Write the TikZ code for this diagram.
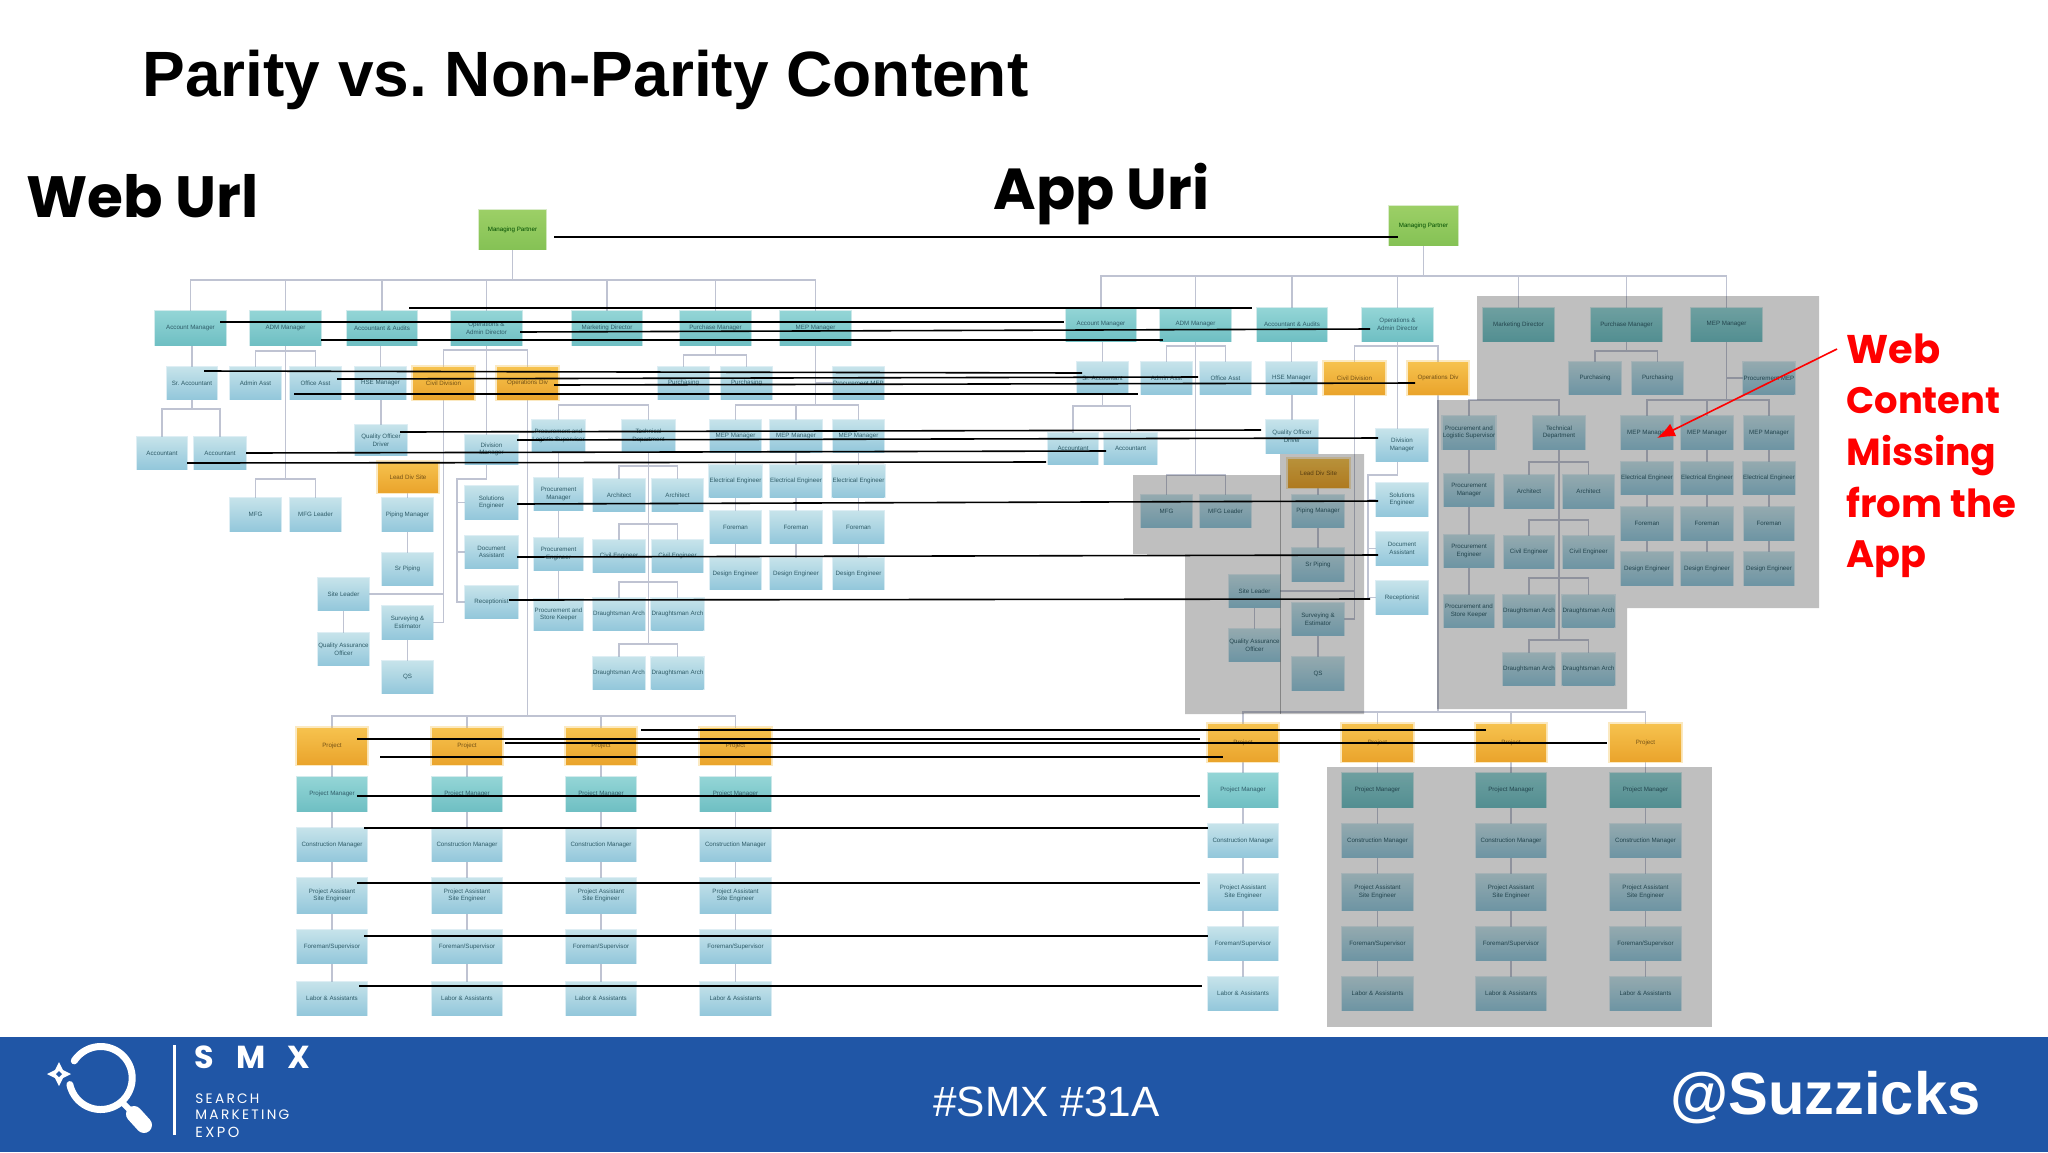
\documentclass[tikz,border=0pt]{standalone}
\usepackage{fontspec}
\usepackage{graphicx}
\setmainfont{Liberation Sans}
\newfontfamily\pop{Poppins}
\frenchspacing
\usetikzlibrary{calc,arrows.meta}
\pgfdeclarelayer{bg}
\pgfsetlayers{bg,main}
\definecolor{tealT}{HTML}{93D5D6}\definecolor{tealB}{HTML}{6FBFC3}
\definecolor{blueT}{HTML}{C6E3EA}\definecolor{blueB}{HTML}{93C7DB}
\definecolor{orT}{HTML}{F6C24E}\definecolor{orB}{HTML}{EAA42C}
\definecolor{grT}{HTML}{9CCF66}\definecolor{grB}{HTML}{85C255}
\definecolor{linkc}{HTML}{BFC3D2}
\definecolor{band}{HTML}{2056A6}
\definecolor{lab}{HTML}{2F5C68}
\tikzset{
  boxb/.style={inner sep=0pt,align=center,font=\fontsize{3.1}{3.8}\selectfont,text=lab,anchor=center},
  teal/.style={top color=tealT,bottom color=tealB,preaction={draw=tealB,line width=1.4pt,draw opacity=.3}},
  lblue/.style={top color=blueT,bottom color=blueB,preaction={draw=blueB,line width=1.4pt,draw opacity=.3}},
  orng/.style={top color=orT,bottom color=orB,text=orB!50!black,preaction={draw=orT,line width=2pt,draw opacity=.35}},
  grn/.style={top color=grT,bottom color=grB,text=green!30!black,preaction={draw=grB,line width=1.4pt,draw opacity=.3}},
  link/.style={draw=linkc,line width=.8pt},
  shade/.style={fill=black,fill opacity=.25},
  match/.style={draw=black,line width=.8pt},
  redarrow/.style={draw=red,line width=.8pt,-{Latex[length=9pt,width=7pt]}},
  free/.style={inner sep=0pt,anchor=west},
}
\newcommand{\bx}[7]{\node[boxb,#6,minimum width={(#4-#2)*0.5pt},minimum height={(#5-#3)*0.5pt}] (#1) at ({(#2+#4)/2},{(#3+#5)/2}) {#7};}
% parent -> child through a bus at height y
\newcommand{\lk}[3]{\draw[link] (#1.south) -- (#1.south |- 0,#3) -| (#2.north);}
% bracket between two siblings
\newcommand{\brk}[3]{\draw[link] (#1.north) -- (#1.north |- 0,#3) -| (#2.north);}
\newcommand{\vl}[2]{\draw[link] (#1.south) -- (#1.south -| #2.north) -- (#2.north);}
\newcommand{\cn}[5]{\coordinate (cs#1) at (#2,#3);\coordinate (ce#1) at (#4,#5);\draw[match] (cs#1) -- (ce#1);}
\begin{document}
\begin{tikzpicture}[x=0.5pt,y=-0.5pt]
\useasboundingbox (0,0) rectangle (2048,1152);
%% ---- WEB TREE
\bx{wR}{479}{210}{546}{249}{grn}{Managing Partner}
\bx{wA}{155}{311}{226}{345}{teal}{Account Manager}
\bx{wB}{250}{311}{321}{345}{teal}{ADM Manager}
\bx{wC}{347}{311}{417}{345}{teal}{Accountant \& Audits}
\bx{wD}{451}{311}{522}{345}{teal}{Operations \&\\Admin Director}
\bx{wE}{572}{311}{642}{345}{teal}{Marketing Director}
\bx{wF}{680}{311}{751}{345}{teal}{Purchase Manager}
\bx{wG}{780}{311}{851}{345}{teal}{MEP Manager}
\bx{wa}{167}{367}{217}{399}{lblue}{Sr. Accountant}
\bx{wb}{230}{367}{281}{399}{lblue}{Admin Asst}
\bx{wc}{290}{367}{341}{399}{lblue}{Office Asst}
\bx{wd}{355}{367}{406}{399}{lblue}{HSE Manager}
\bx{wo}{413}{367}{474}{399}{orng}{Civil Division}
\bx{wp}{497}{367}{558}{399}{orng}{Operations Div}
\bx{wfa}{658}{367}{709}{399}{lblue}{Purchasing}
\bx{wfb}{721}{367}{772}{399}{lblue}{Purchasing}
\bx{wg}{833}{367}{884}{399}{lblue}{Procurement MEP}
\bx{waa}{137}{437}{187}{469}{lblue}{Accountant}
\bx{wab}{194}{437}{246}{469}{lblue}{Accountant}
\bx{wq}{355}{425}{407}{455}{lblue}{Quality Officer\\Driver}
\bx{wv}{465}{435}{518}{464}{lblue}{Division\\Manager}
\bx{wl}{378}{462}{438}{492}{orng}{Lead Div Site}
\bx{wpm}{382}{498}{433}{531}{lblue}{Piping Manager}
\bx{wpe}{382}{553}{433}{585}{lblue}{Sr Piping}
\bx{wsa}{318}{578}{369}{610}{lblue}{Site Leader}
\bx{wsb}{318}{633}{369}{665}{lblue}{Quality Assurance\\Officer}
\bx{wn}{382}{606}{433}{639}{lblue}{Surveying \&\\Estimator}
\bx{wqs}{382}{661}{433}{693}{lblue}{QS}
\bx{wme}{230}{498}{281}{531}{lblue}{MFG}
\bx{wmf}{290}{498}{341}{531}{lblue}{MFG Leader}
\bx{wsol}{465}{486}{518}{519}{lblue}{Solutions\\Engineer}
\bx{wsys}{465}{536}{518}{568}{lblue}{Document\\Assistant}
\bx{wreg}{465}{586}{518}{618}{lblue}{Receptionist}
\bx{wma}{534}{420}{583}{452}{lblue}{Procurement and\\Logistic Supervisor}
\bx{wmb}{622}{420}{675}{452}{lblue}{Technical\\Department}
\bx{wmc}{534}{478}{583}{510}{lblue}{Procurement\\Manager}
\bx{wmd}{534}{538}{583}{570}{lblue}{Procurement\\Engineer}
\bx{wme2}{534}{599}{583}{630}{lblue}{Procurement and\\Store Keeper}
\foreach \r/\ya/\yb/\t in {1/479/511/Architect,2/540/572/Civil Engineer,3/598/630/Draughtsman Arch,4/657/689/Draughtsman Arch}{
  \bx{wxa\r}{593}{\ya}{645}{\yb}{lblue}{\t}
  \bx{wxb\r}{652}{\ya}{703}{\yb}{lblue}{\t}
}
\foreach \c/\xa/\xb in {1/710/761,2/770/822,3/833/884}{
  \bx{wga\c}{\xa}{420}{\xb}{452}{lblue}{MEP Manager}
  \bx{wgb\c}{\xa}{465}{\xb}{497}{lblue}{Electrical Engineer}
  \bx{wgc\c}{\xa}{511}{\xb}{543}{lblue}{Foreman}
  \bx{wgd\c}{\xa}{558}{\xb}{589}{lblue}{Design Engineer}
}
\foreach \c/\xa/\xb in {1/297/367,2/432/502,3/566/636,4/700/771}{
  \bx{wP\c}{\xa}{728}{\xb}{764}{orng}{Project}
  \bx{wQ\c}{\xa}{777}{\xb}{811}{teal}{Project Manager}
  \bx{wS\c}{\xa}{828}{\xb}{861}{lblue}{Construction Manager}
  \bx{wT\c}{\xa}{878}{\xb}{913}{lblue}{Project Assistant\\Site Engineer}
  \bx{wU\c}{\xa}{930}{\xb}{963}{lblue}{Foreman/Supervisor}
  \bx{wV\c}{\xa}{982}{\xb}{1015}{lblue}{Labor \& Assistants}
}
%% ---- APP TREE
\bx{aR}{1389}{206}{1458}{245}{grn}{Managing Partner}
\bx{aA}{1066}{308}{1136}{341}{teal}{Account Manager}
\bx{aB}{1160}{308}{1231}{341}{teal}{ADM Manager}
\bx{aC}{1257}{308}{1327}{341}{teal}{Accountant \& Audits}
\bx{aD}{1362}{308}{1433}{341}{teal}{Operations \&\\Admin Director}
\bx{aE}{1483}{308}{1554}{341}{teal}{Marketing Director}
\bx{aF}{1591}{308}{1662}{341}{teal}{Purchase Manager}
\bx{aG}{1691}{308}{1762}{341}{teal}{MEP Manager}
\bx{aa}{1077}{362}{1128}{394}{lblue}{Sr. Accountant}
\bx{ab}{1141}{362}{1192}{394}{lblue}{Admin Asst}
\bx{ac}{1200}{362}{1251}{394}{lblue}{Office Asst}
\bx{ad}{1266}{362}{1317}{394}{lblue}{HSE Manager}
\bx{ao}{1324}{362}{1385}{394}{orng}{Civil Division}
\bx{ap}{1408}{362}{1468}{394}{orng}{Operations Div}
\bx{afa}{1569}{362}{1621}{394}{lblue}{Purchasing}
\bx{afb}{1632}{362}{1683}{394}{lblue}{Purchasing}
\bx{ag}{1744}{362}{1794}{394}{lblue}{Procurement MEP}
\bx{aaa}{1048}{433}{1098}{464}{lblue}{Accountant}
\bx{aab}{1104}{433}{1157}{464}{lblue}{Accountant}
\bx{aq}{1266}{420}{1318}{453}{lblue}{Quality Officer\\Driver}
\bx{av}{1376}{429}{1428}{461}{lblue}{Division\\Manager}
\bx{al}{1288}{459}{1349}{487}{orng}{Lead Div Site}
\bx{apm}{1292}{495}{1344}{527}{lblue}{Piping Manager}
\bx{ape}{1292}{548}{1344}{581}{lblue}{Sr Piping}
\bx{asa}{1229}{575}{1280}{607}{lblue}{Site Leader}
\bx{asb}{1229}{629}{1280}{661}{lblue}{Quality Assurance\\Officer}
\bx{an}{1292}{603}{1344}{635}{lblue}{Surveying \&\\Estimator}
\bx{aqs}{1292}{657}{1344}{690}{lblue}{QS}
\bx{ame}{1141}{495}{1192}{527}{lblue}{MFG}
\bx{amf}{1200}{495}{1251}{527}{lblue}{MFG Leader}
\bx{asol}{1376}{483}{1428}{516}{lblue}{Solutions\\Engineer}
\bx{asys}{1376}{532}{1428}{565}{lblue}{Document\\Assistant}
\bx{areg}{1376}{581}{1428}{614}{lblue}{Receptionist}
\bx{ama}{1444}{416}{1494}{449}{lblue}{Procurement and\\Logistic Supervisor}
\bx{amb}{1533}{416}{1585}{449}{lblue}{Technical\\Department}
\bx{amc}{1444}{474}{1494}{506}{lblue}{Procurement\\Manager}
\bx{amd}{1444}{535}{1494}{567}{lblue}{Procurement\\Engineer}
\bx{ame2}{1444}{595}{1494}{627}{lblue}{Procurement and\\Store Keeper}
\foreach \r/\ya/\yb/\t in {1/475/508/Architect,2/536/568/Civil Engineer,3/595/627/Draughtsman Arch,4/653/685/Draughtsman Arch}{
  \bx{axa\r}{1504}{\ya}{1554}{\yb}{lblue}{\t}
  \bx{axb\r}{1563}{\ya}{1614}{\yb}{lblue}{\t}
}
\foreach \c/\xa/\xb in {1/1621/1673,2/1681/1733,3/1744/1794}{
  \bx{aga\c}{\xa}{416}{\xb}{449}{lblue}{MEP Manager}
  \bx{agb\c}{\xa}{462}{\xb}{494}{lblue}{Electrical Engineer}
  \bx{agc\c}{\xa}{507}{\xb}{540}{lblue}{Foreman}
  \bx{agd\c}{\xa}{552}{\xb}{585}{lblue}{Design Engineer}
}
\foreach \c/\xa/\xb in {1/1208/1278,2/1342/1413,3/1476/1546,4/1610/1681}{
  \bx{aP\c}{\xa}{724}{\xb}{761}{orng}{Project}
  \bx{aQ\c}{\xa}{773}{\xb}{807}{teal}{Project Manager}
  \bx{aS\c}{\xa}{824}{\xb}{857}{lblue}{Construction Manager}
  \bx{aT\c}{\xa}{874}{\xb}{910}{lblue}{Project Assistant\\Site Engineer}
  \bx{aU\c}{\xa}{927}{\xb}{960}{lblue}{Foreman/Supervisor}
  \bx{aV\c}{\xa}{977}{\xb}{1010}{lblue}{Labor \& Assistants}
}
%% ---- TREE LINKS (behind the boxes)
\begin{pgfonlayer}{bg}
\fill[white] (0,0) rectangle (2048,1152);
\foreach \p in {w,a}{
  \foreach \c in {1,2,3,4}{
    \vl{\p P\c}{\p Q\c}\vl{\p Q\c}{\p S\c}\vl{\p S\c}{\p T\c}\vl{\p T\c}{\p U\c}\vl{\p U\c}{\p V\c}
  }
  \foreach \c in {1,2,3}{
    \vl{\p ga\c}{\p gb\c}\vl{\p gb\c}{\p gc\c}\vl{\p gc\c}{\p gd\c}
  }
  \vl{\p A}{\p a}\vl{\p C}{\p d}\vl{\p d}{\p q}\vl{\p l}{\p pm}\vl{\p pm}{\p pe}
  \vl{\p sa}{\p sb}\vl{\p n}{\p qs}\vl{\p ma}{\p mc}\vl{\p mc}{\p md}\vl{\p md}{\p me2}
  \draw[link] (\p o.south) |- (\p n.east);
  \draw[link] (\p sa.east) -- (\p sa.east -| \p o.south);
  \draw[link] (\p g.west) -| (\p G.south);
}
\foreach \k in {A,B,C,D,E,F,G}{\lk{wR}{w\k}{280}\lk{aR}{a\k}{276}}
\lk{wB}{wb}{351}\lk{wB}{wc}{351}\lk{wB}{wme}{479}\lk{wB}{wmf}{479}
\lk{aB}{ab}{346}\lk{aB}{ac}{346}\lk{aB}{ame}{475}\lk{aB}{amf}{475}
\lk{wa}{waa}{409}\lk{wa}{wab}{409}\lk{aa}{aaa}{406}\lk{aa}{aab}{406}
\lk{wD}{wo}{350}\lk{wD}{wp}{350}\lk{aD}{ao}{346}\lk{aD}{ap}{346}
\lk{wF}{wfa}{355}\lk{wF}{wfb}{355}\lk{aF}{afa}{351}\lk{aF}{afb}{351}
\foreach \c in {1,2,3}{\lk{wG}{wga\c}{405}\lk{aG}{aga\c}{400}}
\brk{wma}{wmb}{405}\brk{ama}{amb}{400}
\foreach \k/\y in {1/466,2/524,3/582,4/644}{\brk{wxa\k}{wxb\k}{\y}}
\foreach \k/\y in {1/462,2/520,3/578,4/640}{\brk{axa\k}{axb\k}{\y}}
\draw[link] (wmb.south) -- (wmb.south |- 0,644);
\draw[link] (amb.south) -- (amb.south |- 0,640);
\coordinate (wspine) at (457,479);\coordinate (aspine) at (1368,475);
\draw[link] (wD.south) |- (wspine) |- (wreg.west);
\draw[link] (aD.south) |- (aspine) |- (areg.west);
\draw[link] (wsol.west) -- (wsol.west -| wspine);\draw[link] (wsys.west) -- (wsys.west -| wspine);
\draw[link] (asol.west) -- (asol.west -| aspine);\draw[link] (asys.west) -- (asys.west -| aspine);
\foreach \c in {1,2,3,4}{\lk{wp}{wP\c}{716}\lk{ap}{aP\c}{712}}
\end{pgfonlayer}
%% ---- GREY OVERLAYS
\fill[shade] (1477,296) -- (1819,296) -- (1819,608) -- (1627,608) -- (1627,709) -- (1437,709) -- (1437,400) -- (1477,400) -- cycle;
\fill[shade] (1133,475) -- (1280,475) -- (1280,454) -- (1364,454) -- (1364,714) -- (1185,714) -- (1185,554) -- (1133,554) -- cycle;
\fill[shade] (1327,767) rectangle (1712,1027);
\draw[black,opacity=.3,line width=.5pt] (1280,475) -- (1280,714);
%% ---- BLACK MATCH LINES
\cn{1}{554}{237}{1398}{237}
\cn{2}{409}{308}{1252}{308}
\cn{3}{220}{322}{1064}{322}
\cn{4}{520}{332}{1370}{329}
\cn{5}{321}{340}{1163}{340}
\cn{6}{204}{371}{1082}{373}
\cn{7}{337}{379}{1198}{377}
\cn{8}{554}{385}{1415}{383}
\cn{9}{294}{394}{1138}{394}
\cn{10}{400}{432}{1261}{430}
\cn{11}{517}{440}{1378}{438}
\cn{12}{246}{453}{1106}{451}
\cn{13}{187}{463}{1046}{462}
\cn{14}{517}{504}{1378}{501}
\cn{15}{517}{557}{1378}{555}
\cn{16}{509}{600}{1370}{599}
\cn{17}{641}{730}{1486}{730}
\cn{18}{357}{739}{1200}{739}
\cn{19}{505}{743}{1607}{743}
\cn{20}{380}{757}{1223}{757}
\cn{21}{357}{796}{1200}{796}
\cn{22}{364}{828}{1208}{828}
\cn{23}{357}{883}{1200}{883}
\cn{24}{364}{936}{1208}{936}
\cn{25}{359}{986}{1202}{986}
%% ---- RED ARROW AND NOTE
\coordinate (arrS) at (1837,349);\coordinate (arrE) at (1657,438);
\draw[redarrow] (arrS) -- (arrE);
\node[free,text=red] (nw1) at (1846,349) {\pop\bfseries\resizebox{47pt}{!}{Web}};
\node[free,text=red] (nw2) at (1846,401) {\pop\bfseries\resizebox{77pt}{!}{Content}};
\node[free,text=red] (nw3) at (1846,456) {\pop\bfseries\resizebox{75pt}{!}{Missing}};
\node[free,text=red] (nw4) at (1846,502) {\pop\bfseries\resizebox{85pt}{!}{from the}};
\node[free,text=red] (nw5) at (1846,559) {\pop\bfseries\resizebox{40pt}{!}{App}};
%% ---- TITLES
\node[free] (title) at (142,80) {\bfseries\resizebox{443pt}{!}{Parity vs. Non-Parity Content}};
\node[free] (web) at (26,196) {\pop\bfseries\resizebox{116pt}{!}{Web Url}};
\node[free] (app) at (993,194) {\pop\bfseries\resizebox{108pt}{!}{App Uri}};
%% ---- FOOTER
\fill[band] (0,1037) rectangle (2048,1152);
\draw[white,line width=3.5pt,line cap=round] plot[domain=213:528,samples=70] ({100.7+31.5*cos(\x)},{1078+31.5*sin(\x)});
\draw[white,line width=3pt] (122,1102) -- (136,1116);
\draw[white,line width=8pt,line cap=round] (134,1114) -- (144,1125);
\fill[white] (59,1062) -- (63,1070) -- (71,1074) -- (63,1078) -- (59,1086) -- (55,1078) -- (47,1074) -- (55,1070) -- cycle;
\fill[band] (59,1071) -- (62,1074) -- (59,1077) -- (56,1074) -- cycle;
\fill[white] (173,1045) rectangle (176,1135);
\node[free,text=white] (smx) at (194,1057) {\pop\bfseries\resizebox{58pt}{!}{S\hspace{.7em}M\hspace{.7em}X}};
\node[free,text=white] (s1) at (195,1099) {\pop\resizebox{32pt}{!}{S\,E\,A\,R\,C\,H}};
\node[free,text=white] (s2) at (195,1115) {\pop\resizebox{47pt}{!}{M\,A\,R\,K\,E\,T\,I\,N\,G}};
\node[free,text=white] (s3) at (195,1132) {\pop\resizebox{22pt}{!}{E\,X\,P\,O}};
\node[free,text=white] (tag) at (933,1102) {\resizebox{113pt}{!}{\#SMX \#31A}};
\node[free,text=white] (hdl) at (1670,1098) {\bfseries\resizebox{155pt}{!}{@Suzzicks}};
\end{tikzpicture}
\end{document}
